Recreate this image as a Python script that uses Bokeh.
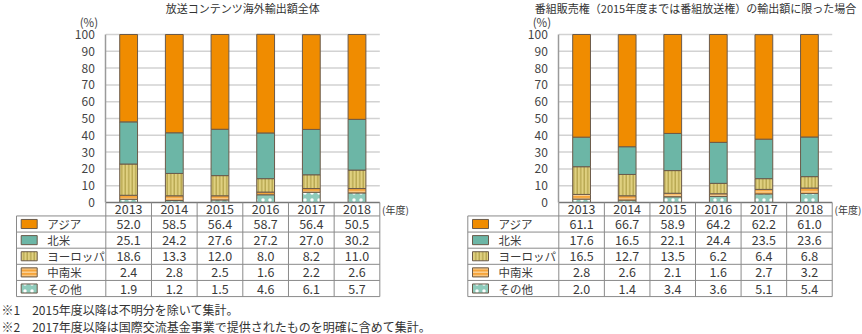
import numpy as np
from bokeh.plotting import figure
from bokeh.models import Range1d, LinearAxis, FixedTicker
from bokeh.layouts import row
from bokeh.embed import file_html
from bokeh.resources import INLINE
from bokeh.core.properties import value

# ---------------- data ----------------
years = ["2013", "2014", "2015", "2016", "2017", "2018"]
series_names = ["アジア", "北米", "ヨーロッパ", "中南米", "その他"]

left_asia = [52.0, 58.5, 56.4, 58.7, 56.4, 50.5]
left_north_america = [25.1, 24.2, 27.6, 27.2, 27.0, 30.2]
left_europe = [18.6, 13.3, 12.0, 8.0, 8.2, 11.0]
left_latin_america = [2.4, 2.8, 2.5, 1.6, 2.2, 2.6]
left_other = [1.9, 1.2, 1.5, 4.6, 6.1, 5.7]

right_asia = [61.1, 66.7, 58.9, 64.2, 62.2, 61.0]
right_north_america = [17.6, 16.5, 22.1, 24.4, 23.5, 23.6]
right_europe = [16.5, 12.7, 13.5, 6.2, 6.4, 6.8]
right_latin_america = [2.8, 2.6, 2.1, 1.6, 2.7, 3.2]
right_other = [2.0, 1.4, 3.4, 3.6, 5.1, 5.4]

y_ticks = [0, 10, 20, 30, 40, 50, 60, 70, 80, 90, 100]
left_title = "放送コンテンツ海外輸出額全体"
right_title = "番組販売権（2015年度までは番組放送権）の輸出額に限った場合"
y_unit = "(%)"
x_unit = "(年度)"
notes = ["※1　2015年度以降は不明分を除いて集計。",
         "※2　2017年度以降は国際交流基金事業で提供されたものを明確に含めて集計。"]

# ---------------- styles ----------------
FONT = value("Noto Sans CJK JP")
OUTLINE = "#6b5a4a"
styles = {
    "アジア": dict(fill_color="#f08c00"),
    "北米": dict(fill_color="#6cb6a6"),
    "ヨーロッパ": dict(fill_color="#e0d080", hatch_pattern="vertical_line",
                   hatch_color="#b0a048", hatch_scale=3.5, hatch_weight=1.2),
    "中南米": dict(fill_color="#f5a43a", hatch_pattern="horizontal_line",
                hatch_color="#fcdaa8", hatch_scale=3.5, hatch_weight=1.2),
    "その他": dict(fill_color="#8ecbbb", hatch_pattern="dot",
                hatch_color="#ffffff", hatch_scale=7, hatch_weight=2),
}

H = 334
Y0_PX, Y100_PX = 202, 34
UPX = (Y0_PX - Y100_PX) / 100.0   # px per y unit
HEADER_H = 8.0
ROW_H = 9.6


def make_panel(title, values, fig_w, plot_left, col_w, legend_left_px,
               footnotes=None):
    x_start = -plot_left / col_w
    x_end = (fig_w - plot_left) / col_w
    y_end = 100 + Y100_PX / UPX
    y_start = -(H - Y0_PX) / UPX
    ux = lambda px: (px - plot_left) / col_w
    uy = lambda px: (Y0_PX - px) / UPX

    p = figure(width=fig_w, height=H, x_range=Range1d(x_start, x_end),
               y_range=Range1d(y_start, y_end), x_axis_type=None,
               y_axis_type=None, output_backend="svg", toolbar_location=None,
               min_border=0)
    p.outline_line_color = None
    p.background_fill_color = "white"
    p.border_fill_color = "white"

    n = len(years)
    centers = np.arange(n) + 0.5

    # y axis
    ax = LinearAxis(ticker=FixedTicker(ticks=y_ticks), fixed_location=0,
                    bounds=(0, 100))
    ax.major_tick_line_color = None
    ax.minor_tick_line_color = None
    ax.axis_line_color = "#9a9a9a"
    ax.axis_line_width = 1.5
    ax.major_label_text_font = "Noto Sans CJK JP"
    ax.major_label_text_font_size = "12px"
    ax.major_label_text_color = "#444444"
    ax.major_label_standoff = 5
    p.add_layout(ax, "left")

    # grid lines
    gt = [t for t in y_ticks if t > 0]
    p.segment(x0=[0] * len(gt), x1=[n] * len(gt), y0=gt, y1=gt,
              line_color="#d2d2d2", line_width=1.5)

    # stacked bars (bottom to top)
    order = list(reversed(series_names))
    bottom = np.zeros(n)
    for name in order:
        v = np.array(values[name])
        p.vbar(x=centers, width=0.39, bottom=bottom, top=bottom + v,
               line_color=OUTLINE, line_width=1, **styles[name])
        bottom = bottom + v

    # table
    legend_left = ux(legend_left_px)
    nrows = len(series_names)
    bounds_y = [-HEADER_H - ROW_H * k for k in range(nrows + 1)]
    tbl = "#8a8a8a"
    p.segment(x0=[0], x1=[n], y0=[0], y1=[0], line_color="#777777",
              line_width=1.5)
    p.segment(x0=[legend_left] * len(bounds_y), x1=[n] * len(bounds_y),
              y0=bounds_y, y1=bounds_y, line_color=tbl, line_width=1)
    xs = list(range(n + 1))
    p.segment(x0=xs, x1=xs, y0=[0] * len(xs), y1=[bounds_y[-1]] * len(xs),
              line_color=tbl, line_width=1)
    p.segment(x0=[legend_left], x1=[legend_left], y0=[bounds_y[0]],
              y1=[bounds_y[-1]], line_color=tbl, line_width=1)

    # year labels
    p.text(x=centers, y=[-HEADER_H / 2] * n, text=years, text_font=FONT,
           text_font_size="12.5px", text_color="#3a3a3a",
           text_align="center", text_baseline="middle")
    p.text(x=[n + 0.05], y=[-HEADER_H / 2], text=[x_unit], text_font=FONT,
           text_font_size="10px", text_color="#3a3a3a",
           text_align="left", text_baseline="middle")

    sw_l = legend_left + 4.7 / col_w
    sw_r = legend_left + 20.7 / col_w
    for k, name in enumerate(series_names):
        yc = -HEADER_H - ROW_H * (k + 0.5)
        p.quad(left=[sw_l], right=[sw_r], bottom=[yc - 2.7], top=[yc + 2.7],
               line_color=OUTLINE, line_width=1, **styles[name])
        p.text(x=[legend_left + 30.7 / col_w], y=[yc], text=[name],
               text_font=FONT, text_font_size="11.5px", text_color="#3a3a3a",
               text_align="left", text_baseline="middle")
        p.text(x=centers, y=[yc] * n, text=[f"{v:.1f}" for v in values[name]],
               text_font=FONT, text_font_size="12.5px", text_color="#3a3a3a",
               text_align="center", text_baseline="middle")

    # titles
    p.text(x=[n / 2], y=[uy(7)], text=[title], text_font=FONT,
           text_font_size="11px", text_color="#333333", text_align="center",
           text_baseline="middle")
    p.text(x=[-0.17], y=[uy(21)], text=[y_unit], text_font=FONT,
           text_font_size="11.5px", text_color="#444444", text_align="right",
           text_baseline="middle")

    if footnotes:
        for i, t in enumerate(footnotes):
            p.text(x=[ux(1)], y=[uy(309 + 17 * i)], text=[t], text_font=FONT,
                   text_font_size="12px", text_color="#333333",
                   text_align="left", text_baseline="middle")
    return p


left_vals = {"アジア": left_asia, "北米": left_north_america,
             "ヨーロッパ": left_europe, "中南米": left_latin_america,
             "その他": left_other}
right_vals = {"アジア": right_asia, "北米": right_north_america,
              "ヨーロッパ": right_europe, "中南米": right_latin_america,
              "その他": right_other}

p1 = make_panel(left_title, left_vals, 431, 105.3, 45.67, 16.0, notes)
p2 = make_panel(right_title, right_vals, 431, 127.3, 45.57, 36.3)

layout = row(p1, p2, spacing=0)
open("out.html", "w").write(file_html(layout, INLINE))
